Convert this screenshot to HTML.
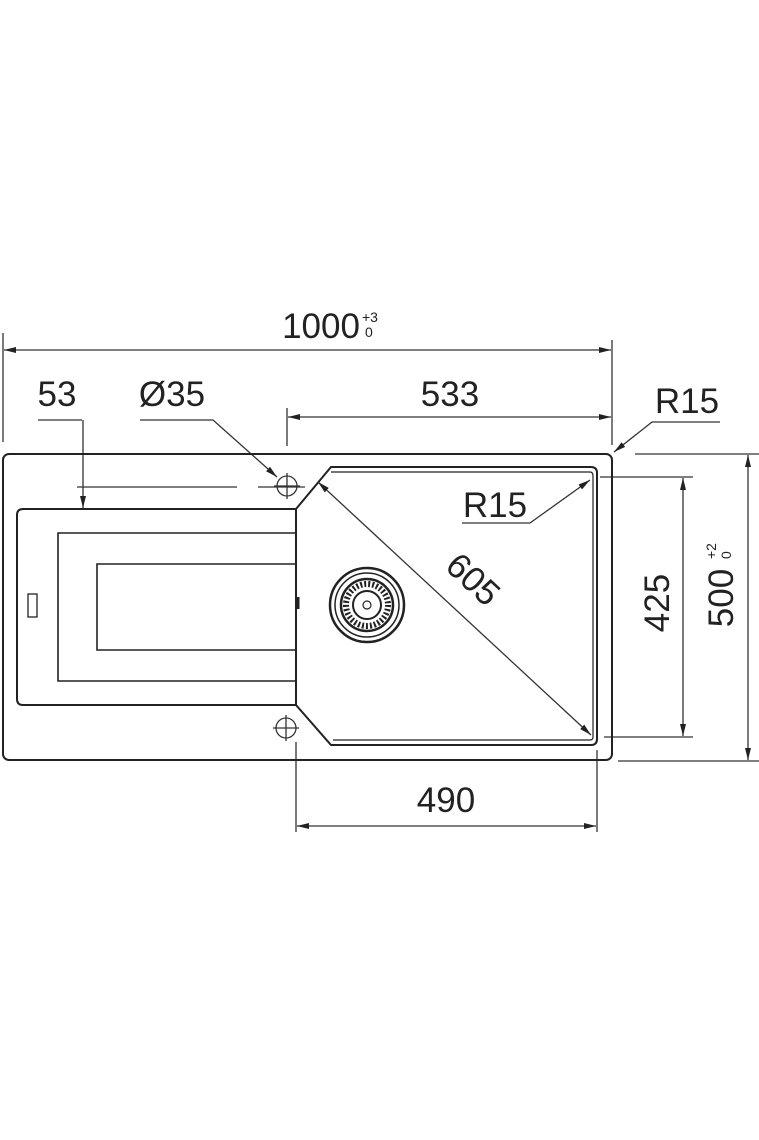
<!DOCTYPE html>
<html><head><meta charset="utf-8"><style>
html,body{margin:0;padding:0;background:#fff}
svg{display:block}
text{font-family:"Liberation Sans",sans-serif;fill:#222}
</style></head><body>
<svg width="759" height="1140" viewBox="0 0 759 1140" xmlns="http://www.w3.org/2000/svg">
<defs>
<marker id="a" viewBox="0 0 12 6" refX="12" refY="3" markerWidth="12" markerHeight="6" orient="auto" markerUnits="userSpaceOnUse">
<path d="M0,0 L12,3 L0,6 z" fill="#222"/></marker>
<marker id="b" viewBox="0 0 12 6" refX="0" refY="3" markerWidth="12" markerHeight="6" orient="auto" markerUnits="userSpaceOnUse">
<path d="M12,0 L0,3 L12,6 z" fill="#222"/></marker>
</defs>
<g fill="none" stroke="#333" stroke-width="1.3">
<line x1="3" y1="333" x2="3" y2="442"/>
<line x1="612" y1="340" x2="612" y2="445"/>
<line x1="4" y1="350" x2="611" y2="350" marker-start="url(#b)" marker-end="url(#a)"/>
<line x1="287" y1="408" x2="287" y2="446"/>
<line x1="288" y1="417" x2="611" y2="417" marker-start="url(#b)" marker-end="url(#a)"/>
<line x1="38" y1="420" x2="82" y2="420"/>
<line x1="83" y1="420" x2="83" y2="508" marker-end="url(#a)"/>
<line x1="77" y1="487" x2="237" y2="487"/>
<line x1="258" y1="487" x2="305" y2="487"/>
<polyline points="140,420 213,420 277,477" marker-end="url(#a)"/>
<polyline points="720,422 652,422 614,452" marker-end="url(#a)"/>
<line x1="600" y1="477" x2="693" y2="477"/>
<line x1="604" y1="737" x2="693" y2="737"/>
<line x1="683" y1="478" x2="683" y2="736" marker-start="url(#b)" marker-end="url(#a)"/>
<line x1="635" y1="454" x2="759" y2="454"/>
<line x1="618" y1="761" x2="759" y2="761"/>
<line x1="748" y1="455" x2="748" y2="760" marker-start="url(#b)" marker-end="url(#a)"/>
<line x1="296" y1="742" x2="296" y2="832"/>
<line x1="597" y1="750" x2="597" y2="832"/>
<line x1="297" y1="826" x2="596" y2="826" marker-start="url(#b)" marker-end="url(#a)"/>
<line x1="318" y1="482" x2="591" y2="735" marker-start="url(#b)" marker-end="url(#a)"/>
<polyline points="462,523 530,523 590,480" marker-end="url(#a)"/>
<circle cx="287" cy="486" r="10"/>
<line x1="274" y1="486" x2="300" y2="486"/><line x1="287" y1="473" x2="287" y2="499"/>
<circle cx="286" cy="728" r="10"/>
<line x1="273" y1="728" x2="299" y2="728"/><line x1="286" y1="715" x2="286" y2="741"/>
</g>
<g fill="none" stroke="#222" stroke-width="2">
<rect x="3" y="454" width="609" height="306" rx="6"/>
<path d="M296,509 L23,509 Q17,509 17,515 L17,699 Q17,705 23,705 L296,705"/>
<path d="M296,533 L58,533 L58,681 L296,681" stroke-width="1.6"/>
<path d="M296,564 L97,564 L97,650 L296,650" stroke-width="1.6"/>
<rect x="28" y="594" width="9" height="23" stroke-width="1.3"/>
<line x1="298" y1="597" x2="298" y2="609" stroke-width="3"/>
<path d="M296,509 L331,467 L591,467 Q597,467 597,473 L597,739 Q597,745 591,745 L331,745 L296,705 Z"/>
<path d="M331,472 L590,472 Q593,472 593,476 L593,737 Q593,740 590,740 L333,740" stroke-width="1.2"/>
<circle cx="367" cy="605" r="37" stroke-width="2.5"/>
<circle cx="367" cy="605" r="32" stroke-width="1.5"/>
<circle cx="367" cy="605" r="26" stroke-width="2.5"/>
<circle cx="367" cy="605" r="21" stroke-width="6" stroke-dasharray="2 2"/>
<circle cx="367" cy="605" r="14" stroke-width="2"/>
<circle cx="367" cy="605" r="4" stroke-width="1.2"/>
</g>
<text x="321" y="338" font-size="35" text-anchor="middle">1000</text>
<text x="362" y="322" font-size="14">+3</text>
<text x="365" y="337" font-size="14">0</text>
<text x="57" y="406" font-size="35" text-anchor="middle">53</text>
<text x="172" y="406" font-size="35" text-anchor="middle">Ø35</text>
<text x="450" y="406" font-size="35" text-anchor="middle">533</text>
<text x="687" y="413" font-size="35" text-anchor="middle">R15</text>
<text x="495" y="517" font-size="35" text-anchor="middle">R15</text>
<text x="446" y="812" font-size="35" text-anchor="middle">490</text>
<text transform="translate(465,588) rotate(43)" font-size="35" text-anchor="middle">605</text>
<text transform="translate(669,603) rotate(-90)" font-size="35" text-anchor="middle">425</text>
<text transform="translate(733,598) rotate(-90)" font-size="35" text-anchor="middle">500</text>
<text transform="translate(716,559) rotate(-90)" font-size="14">+2</text>
<text transform="translate(731,559) rotate(-90)" font-size="14">0</text>
</svg>
</body></html>
